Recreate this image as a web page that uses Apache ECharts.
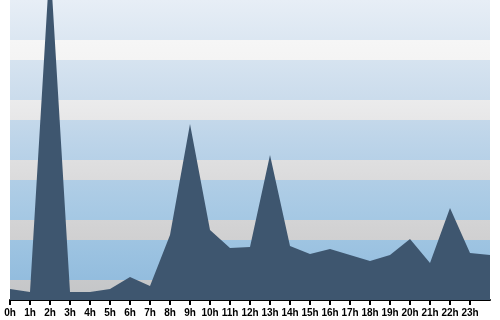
<!DOCTYPE html>
<html>
<head>
<meta charset="utf-8">
<script src="https://cdn.jsdelivr.net/npm/echarts@6/dist/echarts.min.js"></script>
<style>
html,body{margin:0;padding:0;background:#fff;}
#c{width:500px;height:320px;}
</style>
</head>
<body>
<div id="c"></div>
<script>
const hours = ['0h','1h','2h','3h','4h','5h','6h','7h','8h','9h','10h','11h','12h','13h','14h','15h','16h','17h','18h','19h','20h','21h','22h','23h',''];
const values = [11, 8, 340, 8, 8, 11, 23, 14, 65, 176, 70, 52, 53, 145, 54, 46, 51, 45, 39, 45, 61, 37, 92, 47, 45];

const chart = echarts.init(document.getElementById('c'), null, {renderer: 'canvas'});
const grayGrad = {
  type: 'linear', x: 0, y: 0, x2: 0, y2: 300, global: true,
  colorStops: [
    {offset: 0, color: '#fafafa'},
    {offset: 0.2, color: '#f4f4f4'},
    {offset: 0.4, color: '#e7e7e8'},
    {offset: 0.6, color: '#dbdbdc'},
    {offset: 0.8, color: '#d0d0d1'},
    {offset: 1, color: '#c3c5c7'}
  ]
};
const blueGrad = {
  type: 'linear', x: 0, y: 0, x2: 0, y2: 300, global: true,
  colorStops: [
    {offset: 0, color: '#e7eef6'},
    {offset: 0.33, color: '#cbdcec'},
    {offset: 0.55, color: '#b5d0e7'},
    {offset: 0.75, color: '#a3c7e3'},
    {offset: 1, color: '#8db9dc'}
  ]
};
chart.setOption({
  animation: false,
  backgroundColor: '#ffffff',
  grid: {left: 10, right: 10, top: 0, bottom: 20, containLabel: false},
  xAxis: {
    type: 'category',
    boundaryGap: false,
    data: hours,
    axisLine: {show: true, lineStyle: {color: '#000', width: 2}},
    axisTick: {show: true, length: 5, lineStyle: {color: '#000', width: 2}, interval: function (i) { return i < 24; }},
    axisLabel: {interval: 0, margin: 8, color: '#000', fontSize: 10, fontWeight: 'bold', fontFamily: '"Liberation Sans", Arial, sans-serif'},
    splitLine: {show: false}
  },
  yAxis: {
    type: 'value',
    min: 0, max: 300, interval: 20,
    axisLine: {show: false},
    axisTick: {show: false},
    axisLabel: {show: false},
    splitLine: {show: false},
    splitArea: {show: true, areaStyle: {color: [grayGrad, blueGrad, blueGrad]}}
  },
  series: [{
    type: 'line',
    data: values,
    symbol: 'none',
    lineStyle: {width: 0},
    areaStyle: {color: '#3e566f', opacity: 1},
    clip: true
  }]
});
</script>
</body>
</html>
